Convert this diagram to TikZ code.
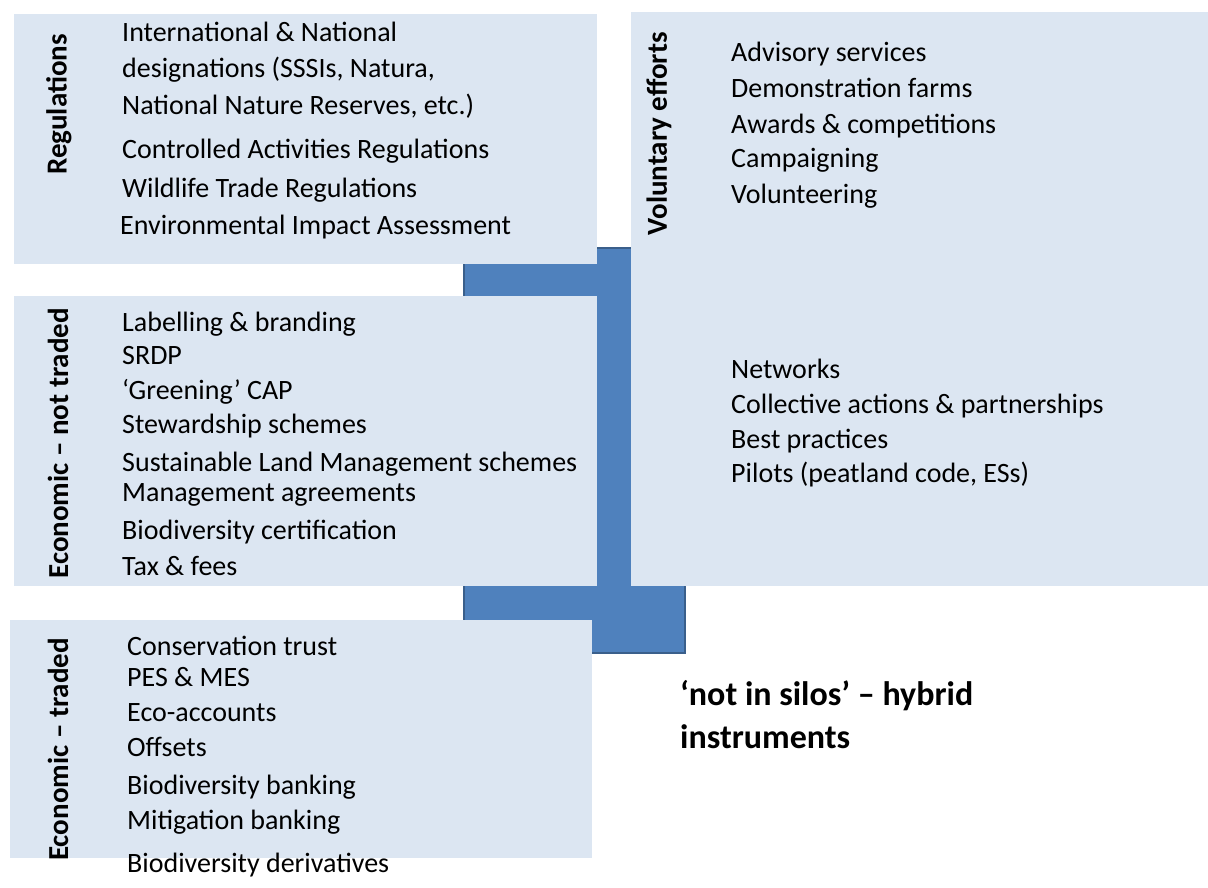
\documentclass[tikz,border=0pt]{standalone}
\usepackage{fontspec}
\setmainfont{Carlito}
\usetikzlibrary{positioning}

\definecolor{panelfill}{HTML}{DCE6F2}
\definecolor{hubblue}{HTML}{4F81BD}
\definecolor{hubedge}{HTML}{3A5F8B}

\begin{document}
\begin{tikzpicture}[x=1pt,y=-1pt,
	panel/.style={fill=panelfill,inner sep=0pt,anchor=north west},
	head/.style={rotate=90,anchor=east,inner sep=0pt,font=\fontsize{29}{35}\selectfont\bfseries},
	item/.style={anchor=base west,inner sep=0pt,font=\fontsize{28}{34}\selectfont},
	note/.style={item,font=\fontsize{34}{42}\selectfont\bfseries}]
			\useasboundingbox (0,0) rectangle (1208,887);
			% blue link behind the four panels
			\node[fill=hubblue,draw=hubedge,line width=1.5pt,inner sep=0pt,anchor=north west,
				minimum width=221pt,minimum height=405pt] (hub) at (463,247) {};
			\node[panel,minimum width=583pt,minimum height=250pt] (reg) at (14,14) {};
			\node[panel,minimum width=583pt,minimum height=290pt] (ntr) at (14,296) {};
			\node[panel,minimum width=582pt,minimum height=238pt] (trd) at (10,620) {};
			\node[panel,minimum width=577pt,minimum height=574pt] (vol) at (631,12) {};
			% headings
			\node[head] (hreg) at (59,34) {Regulations};
			\node[head] (hntr) at (58,308) {Economic – not traded};
			\node[head] (htrd) at (58,638) {Economic – traded};
			\node[head] (hvol) at (659,32) {Voluntary efforts};
			% regulations
			\node[item] (r1) at (122,41) {International \& National};
			\node[item] (r2) at (122,77) {designations (SSSIs, Natura,};
			\node[item] (r3) at (122,114) {National Nature Reserves, etc.)};
			\node[item] (r4) at (122,158) {Controlled Activities Regulations};
			\node[item] (r5) at (122,197) {Wildlife Trade Regulations};
			\node[item] (r6) at (120,234) {Environmental Impact Assessment};
			% economic, not traded
			\node[item] (n1) at (122,331) {Labelling \& branding};
			\node[item] (n2) at (122,364) {SRDP};
			\node[item] (n3) at (122,399) {‘Greening’ CAP};
			\node[item] (n4) at (122,433) {Stewardship schemes};
			\node[item] (n5) at (122,471) {Sustainable Land Management schemes};
			\node[item] (n6) at (122,501) {Management agreements};
			\node[item] (n7) at (122,539) {Biodiversity certification};
			\node[item] (n8) at (122,575) {Tax \& fees};
			% economic, traded
			\node[item] (t1) at (127,655) {Conservation trust};
			\node[item] (t2) at (127,686) {PES \& MES};
			\node[item] (t3) at (127,721) {Eco-accounts};
			\node[item] (t4) at (127,756) {Offsets};
			\node[item] (t5) at (127,794) {Biodiversity banking};
			\node[item] (t6) at (127,829) {Mitigation banking};
			\node[item] (t7) at (127,872) {Biodiversity derivatives};
			% voluntary
			\node[item] (v1) at (731,61) {Advisory services};
			\node[item] (v2) at (731,97) {Demonstration farms};
			\node[item] (v3) at (731,133) {Awards \& competitions};
			\node[item] (v4) at (731,167) {Campaigning};
			\node[item] (v5) at (731,203) {Volunteering};
			\node[item] (v6) at (731,378) {Networks};
			\node[item] (v7) at (731,413) {Collective actions \& partnerships};
			\node[item] (v8) at (731,448) {Best practices};
			\node[item] (v9) at (731,482) {Pilots (peatland code, ESs)};
			% hybrid note
			\node[note] (hyb1) at (680,705) {‘not in silos’ – hybrid};
			\node[note] (hyb2) at (680,748) {instruments};
		\end{tikzpicture}
\end{document}
